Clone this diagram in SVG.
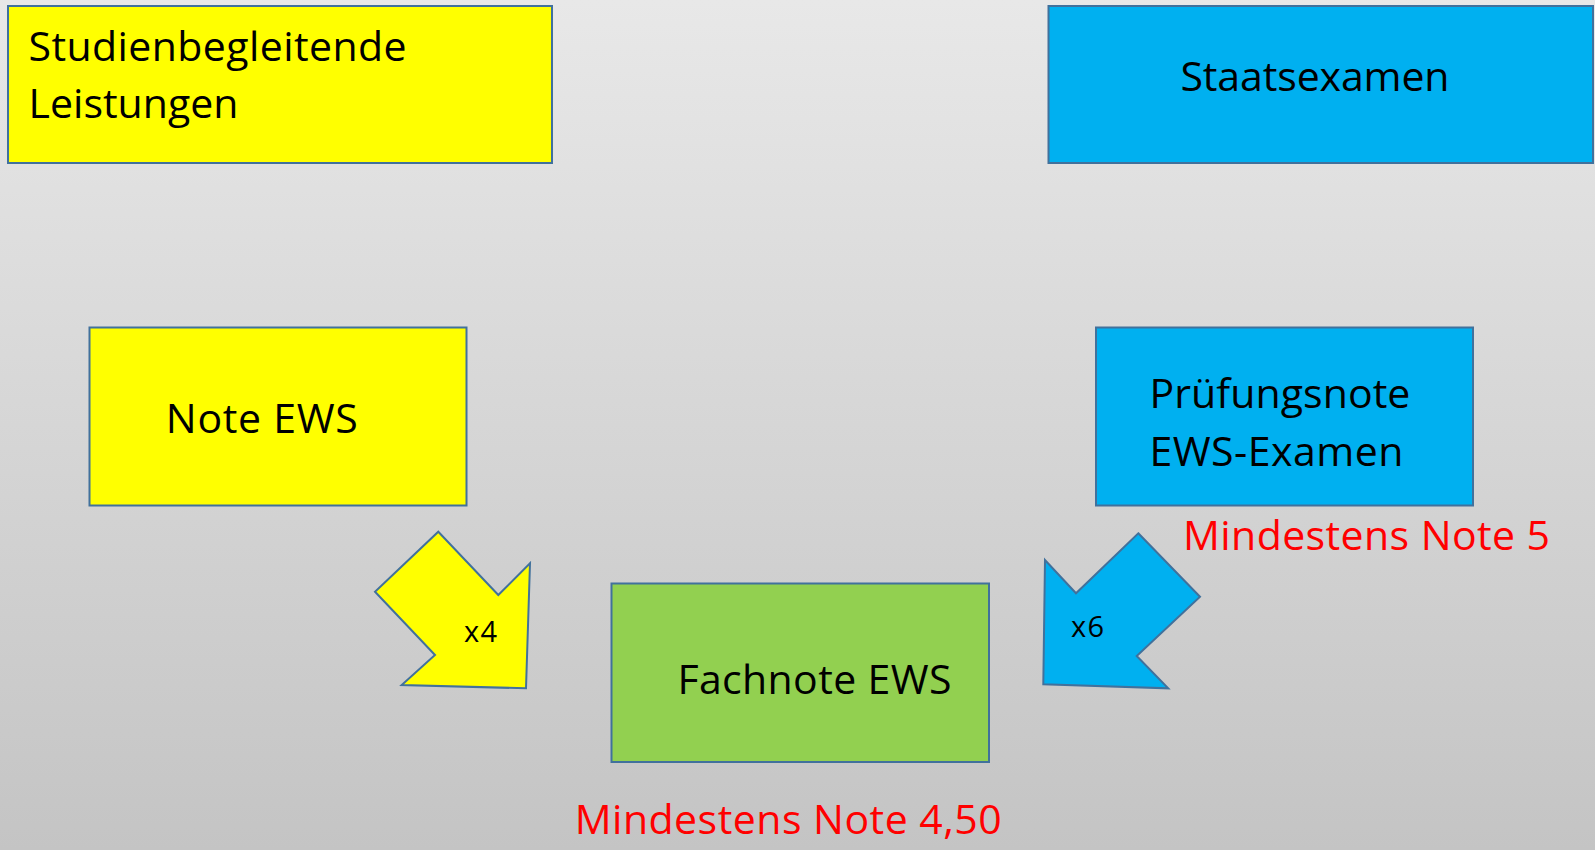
<svg xmlns="http://www.w3.org/2000/svg" width="1595" height="850" viewBox="0 0 1595 850">
<defs>
<linearGradient id="bg" x1="0" y1="0" x2="0" y2="1">
<stop offset="0" stop-color="#E8E8E8"/>
<stop offset="1" stop-color="#C4C4C4"/>
</linearGradient>
</defs>
<style>
.box{stroke:#41719C;stroke-width:2}
.yel{fill:#FFFF00}
.blu{fill:#00B0F0}
.grn{fill:#92D050}
.t{font-family:"Open Sans","Liberation Sans",Arial,sans-serif;font-size:41px;fill:#000}
.r{font-family:"Open Sans","Liberation Sans",Arial,sans-serif;font-size:41px;fill:#FF0000}
.s{font-family:"Open Sans","Liberation Sans",Arial,sans-serif;font-size:29px;fill:#000}
</style>
<rect x="0" y="0" width="1595" height="850" fill="url(#bg)"/>
<g id="connectors">
<g id="arrow-x4">
<polygon class="box yel" points="438.3,531.7 498.3,595 530,563.3 526,688.3 401.7,685 435,655 375,591.7"/>
<text class="s" x="464" y="642" textLength="33">x4</text>
</g>
<g id="arrow-x6">
<polygon class="box blu" points="1138.3,533.3 1200,596.7 1136.7,656 1168.3,688.3 1043.3,684.3 1045,560 1076,593.3"/>
<text class="s" x="1071" y="637" textLength="33">x6</text>
</g>
</g>
<g id="studienbegleitende">
<rect class="box yel" x="8" y="6" width="544" height="157"/>
<text class="t" x="28.5" y="61" textLength="378">Studienbegleitende</text>
<text class="t" x="28.5" y="118" textLength="210">Leistungen</text>
</g>
<g id="staatsexamen">
<rect class="box blu" x="1048.5" y="6" width="544.5" height="157"/>
<text class="t" x="1180.5" y="90.5" textLength="269">Staatsexamen</text>
</g>
<g id="note-ews">
<rect class="box yel" x="89.5" y="327.5" width="377" height="178"/>
<text class="t" x="165.8" y="433" textLength="192">Note EWS</text>
</g>
<g id="pruefungsnote">
<rect class="box blu" x="1096" y="327.5" width="377" height="178"/>
<text class="t" x="1149.4" y="408" textLength="261">Prüfungsnote</text>
<text class="t" x="1149.4" y="466" textLength="254">EWS-Examen</text>
</g>
<g id="mindestens-5">
<text class="r" x="1183" y="550" textLength="367">Mindestens Note 5</text>
</g>
<g id="fachnote">
<rect class="box grn" x="611.5" y="583.5" width="377.5" height="178.5"/>
<text class="t" x="677.4" y="694" textLength="274">Fachnote EWS</text>
</g>
<g id="mindestens-450">
<text class="r" x="574.7" y="834" textLength="427">Mindestens Note 4,50</text>
</g>
</svg>
